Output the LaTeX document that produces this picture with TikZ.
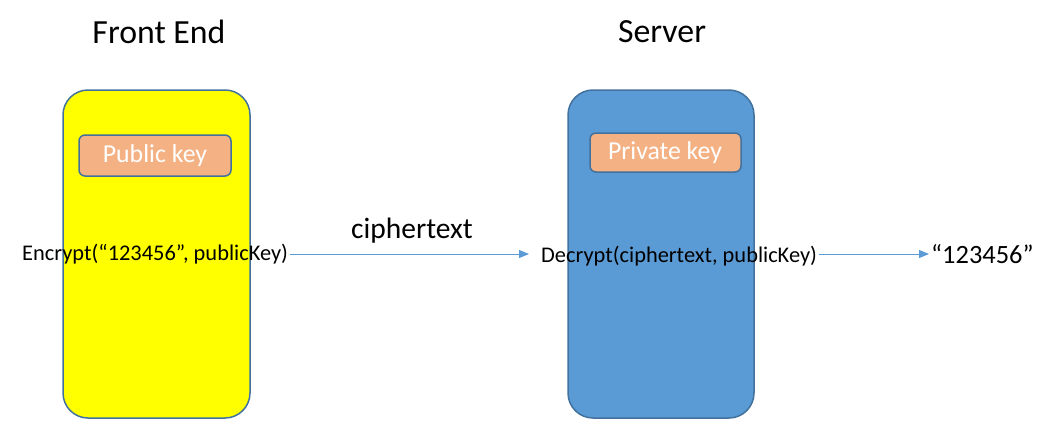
\documentclass[tikz,border=0pt]{standalone}
\usepackage{fontspec}
\setmainfont{Carlito}
\usetikzlibrary{arrows.meta}
\definecolor{edgeblue}{HTML}{41719C}
\definecolor{fillblue}{HTML}{5B9BD5}
\definecolor{keyorange}{HTML}{F4B183}
\definecolor{arrowblue}{HTML}{5B9BD5}
\definecolor{brightyellow}{HTML}{FFFF00}
\tikzset{
  panel/.style={draw=edgeblue, line width=1.5pt, rounded corners=25pt},
  keybox/.style={draw=edgeblue, line width=1.5pt, fill=keyorange, rounded corners=6pt},
  keytext/.style={text=white, font=\fontsize{25.8}{30}\selectfont},
  heading/.style={font=\fontsize{33.8}{40}\selectfont},
  calltext/.style={font=\fontsize{22.4}{26}\selectfont, inner sep=2pt},
  flow/.style={draw=arrowblue, line width=1pt, -{Triangle[length=10pt,width=8pt]}}
}
\begin{document}
\begin{tikzpicture}[x=1pt,y=-1pt]
\useasboundingbox (0,0) rectangle (1058,447);
% panels
\draw[panel, fill=brightyellow] (63,90) rectangle (250,418);
\draw[panel, fill=fillblue] (568,90) rectangle (754,418);
\draw[keybox] (79,135) rectangle (231,176);
\draw[keybox] (590,133) rectangle (741,172);
\node[keytext] (pub) at (155,156) {Public key};
\node[keytext] (priv) at (665,153) {Private key};
% headings
\node[heading] (fe) at (159,32) {Front End};
\node[heading] (srv) at (662,32) {Server};
% texts
\node[calltext, anchor=west] (enc) at (20,254) {Encrypt(“123456”, publicKey)};
\node[calltext, anchor=west] (dec) at (539,256) {Decrypt(ciphertext, publicKey)};
\node[font=\fontsize{26.4}{31}\selectfont, anchor=west, inner sep=2pt] (res) at (929,254) {“123456”};
\node[font=\fontsize{29.5}{35}\selectfont] (ct) at (412,231) {ciphertext};
% arrows
\draw[flow, shorten >=10pt] (enc.east) -- (dec.west |- enc.east);
\draw[flow] (dec.east |- res.west) -- (res.west);
\end{tikzpicture}
\end{document}
